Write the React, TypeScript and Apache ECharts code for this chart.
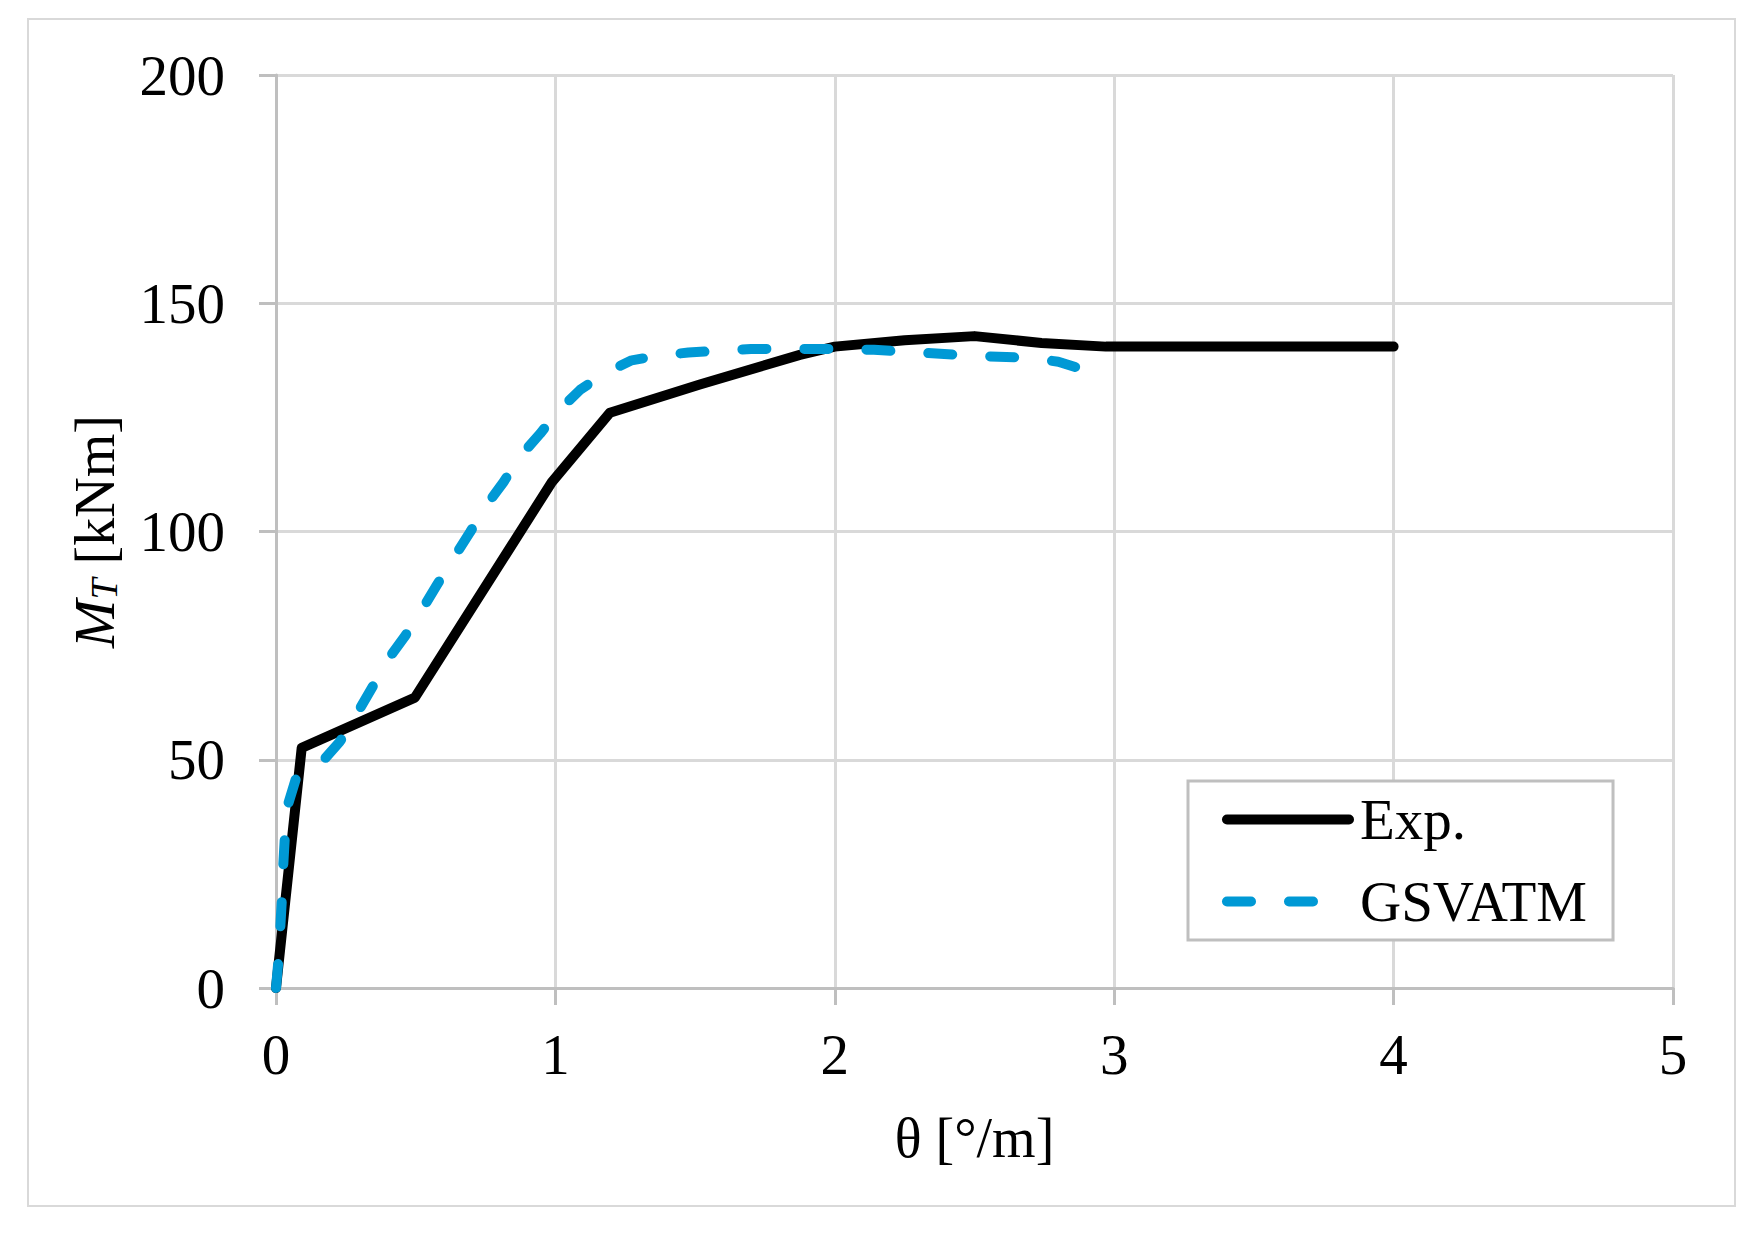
import React, { useEffect, useRef } from "react";
import * as echarts from "echarts";

const FONT = "'Liberation Serif', 'Times New Roman', serif";

// Exp. curve
const expTheta = [0, 0.092, 0.497, 0.987, 1.195, 1.517, 1.875, 2.0, 2.25, 2.5, 2.74, 2.97, 4.0];
const expMoment = [0, 52.6, 63.6, 110.8, 126.0, 132.2, 138.7, 140.5, 141.9, 142.8, 141.3, 140.5, 140.5];

// GSVATM curve
const gsvTheta = [
  0, 0.01, 0.016, 0.022, 0.026, 0.032, 0.044, 0.074, 0.164, 0.229, 0.289, 0.342, 0.396, 0.462,
  0.521, 0.575, 0.641, 0.694, 0.748, 0.814, 0.873, 0.945, 1.01, 1.088, 1.171, 1.273, 1.368,
  1.476, 1.7, 2.0, 2.14, 2.3, 2.5, 2.7, 2.8, 2.9,
];
const gsvMoment = [
  0, 7, 14, 20.5, 27, 33.4, 40.4, 46.4, 49.5, 54, 60, 65.6, 71.6, 77.1, 82.7, 88.2, 94.7, 99.8,
  105.3, 110.8, 116.4, 121.4, 126.4, 131, 134.5, 137.5, 138.5, 139.2, 140, 140, 139.8, 139.2,
  138.5, 138, 137.2, 135.3,
];

const xTicks = [0, 5, 1];
const yTicks = [0, 200, 50];

const seriesNames = ["Exp.", "GSVATM"];

export default function App() {
  const ref = useRef<HTMLDivElement>(null);
  useEffect(() => {
    document.body.style.margin = "0";
    if (!ref.current) return;
    const chart = echarts.init(ref.current, undefined, { renderer: "svg" });
    const pair = (xs: number[], ys: number[]) => xs.map((x, i) => [x, ys[i]]);
    chart.setOption({
      animation: false,
      backgroundColor: "#fff",
      graphic: [
        {
          type: "rect",
          shape: { x: 28, y: 19, width: 1707, height: 1187 },
          style: { fill: "none", stroke: "#d9d9d9", lineWidth: 2 },
          silent: true,
        },
      ],
      grid: { left: 276, top: 75, width: 1397, height: 913, containLabel: false },
      xAxis: {
        type: "value",
        min: xTicks[0],
        max: xTicks[1],
        interval: xTicks[2],
        name: "θ [°/m]",
        nameLocation: "middle",
        nameGap: 122,
        nameTextStyle: { fontFamily: FONT, fontSize: 56, color: "#000" },
        axisLine: { show: true, onZero: false, lineStyle: { color: "#bfbfbf", width: 3 } },
        axisTick: { show: true, inside: false, length: 17, lineStyle: { color: "#bfbfbf", width: 3 } },
        axisLabel: { fontFamily: FONT, fontSize: 57, color: "#000", margin: 38 },
        splitLine: { show: true, lineStyle: { color: "#d9d9d9", width: 3 } },
      },
      yAxis: {
        type: "value",
        min: yTicks[0],
        max: yTicks[1],
        interval: yTicks[2],
        name: "{i|M}{s|T}{n| [kNm]}",
        nameLocation: "middle",
        nameRotate: 90,
        nameGap: 153,
        nameTextStyle: {
          fontFamily: FONT,
          fontSize: 56,
          color: "#000",
          rich: {
            i: { fontFamily: FONT, fontSize: 58, fontStyle: "italic", color: "#000", lineHeight: 64, verticalAlign: "bottom" },
            s: { fontFamily: FONT, fontSize: 38, fontStyle: "italic", color: "#000", lineHeight: 64, verticalAlign: "bottom" },
            n: { fontFamily: FONT, fontSize: 56, color: "#000", lineHeight: 64, verticalAlign: "bottom" },
          },
        },
        axisLine: { show: true, onZero: false, lineStyle: { color: "#bfbfbf", width: 3 } },
        axisTick: { show: true, inside: false, length: 17, lineStyle: { color: "#bfbfbf", width: 3 } },
        axisLabel: { fontFamily: FONT, fontSize: 57, color: "#000", margin: 51 },
        splitLine: { show: true, lineStyle: { color: "#d9d9d9", width: 3 } },
      },
      legend: {
        orient: "vertical",
        left: 1188,
        top: 781,
        padding: [10, 26, 10, 34],
        itemWidth: 122,
        itemHeight: 54,
        itemGap: 25,
        borderColor: "#bfbfbf",
        borderWidth: 3,
        backgroundColor: "#fff",
        itemStyle: { opacity: 0 },
        lineStyle: { width: 10 },
        textStyle: { fontFamily: FONT, fontSize: 57, color: "#000", lineHeight: 54, padding: [0, 0, 0, 6] },
        data: seriesNames,
      },
      series: [
        {
          name: seriesNames[0],
          type: "line",
          data: pair(expTheta, expMoment),
          symbol: "none",
          lineStyle: { color: "#000", width: 10, cap: "round", join: "round" },
          itemStyle: { color: "#000" },
          z: 3,
        },
        {
          name: seriesNames[1],
          type: "line",
          data: pair(gsvTheta, gsvMoment),
          symbol: "none",
          lineStyle: { color: "#0099d5", width: 10, type: [24, 38], cap: "round", join: "round" },
          itemStyle: { color: "#0099d5" },
          z: 4,
        },
      ],
    });
    return () => chart.dispose();
  }, []);
  return <div ref={ref} style={{ width: 1754, height: 1233 }} />;
}
